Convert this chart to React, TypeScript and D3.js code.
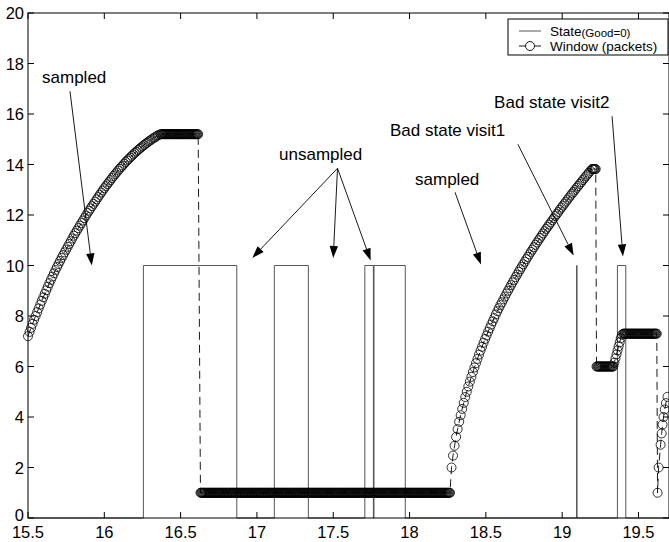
import React from "react";
import * as d3 from "d3";

const width = 669;
const height = 542;
const plot = { left: 28, right: 669, top: 13, bottom: 518 };

const xTicks = [15.5, 16, 16.5, 17, 17.5, 18, 18.5, 19, 19.5];
const yTicks = [0, 2, 4, 6, 8, 10, 12, 14, 16, 18, 20];

// channel state: 0 = good, 10 = bad (switch times and level after each switch)
const stateTimes = [15.5, 16.256, 16.868, 17.114, 17.337, 17.707, 17.763, 17.767, 17.972, 19.095, 19.097, 19.362, 19.417, 19.7];
const stateLevels = [0, 10, 0, 10, 0, 10, 0, 10, 0, 10, 0, 10, 0, 0];

// window growth, first sampled period (one sample every 0.01 from 15.50)
const rise1Start = 15.5;
const rise1 = [
  7.2, 7.37, 7.53, 7.69, 7.85, 8.0, 8.15, 8.3, 8.45, 8.6,
  8.74, 8.88, 9.02, 9.16, 9.3, 9.43, 9.56, 9.69, 9.82, 9.94,
  10.06, 10.18, 10.3, 10.41, 10.52, 10.63, 10.74, 10.85, 10.96, 11.07,
  11.18, 11.28, 11.38, 11.48, 11.58, 11.68, 11.78, 11.88, 11.98, 12.08,
  12.17, 12.26, 12.35, 12.44, 12.53, 12.62, 12.71, 12.8, 12.89, 12.97,
  13.06, 13.14, 13.22, 13.3, 13.38, 13.46, 13.54, 13.61, 13.68, 13.76,
  13.83, 13.9, 13.96, 14.03, 14.1, 14.16, 14.22, 14.28, 14.34, 14.4,
  14.46, 14.51, 14.57, 14.62, 14.67, 14.72, 14.77, 14.82, 14.86, 14.91,
  14.95, 14.99, 15.04, 15.07, 15.11, 15.15, 15.18, 15.2,
];

// window growth, second sampled period (one sample every 0.01 from 18.275)
const rise2Start = 18.275;
const rise2 = [
  2.0, 2.47, 2.86, 3.21, 3.52, 3.81, 4.07, 4.32, 4.56, 4.79,
  5.0, 5.21, 5.4, 5.59, 5.78, 5.96, 6.13, 6.3, 6.47, 6.63,
  6.78, 6.94, 7.09, 7.23, 7.38, 7.52, 7.66, 7.79, 7.92, 8.06,
  8.19, 8.31, 8.43, 8.54, 8.66, 8.77, 8.89, 9.0, 9.11, 9.22,
  9.33, 9.43, 9.54, 9.64, 9.75, 9.85, 9.95, 10.05, 10.15, 10.25,
  10.34, 10.44, 10.54, 10.63, 10.72, 10.82, 10.91, 11.0, 11.09, 11.18,
  11.27, 11.36, 11.45, 11.53, 11.62, 11.7, 11.79, 11.87, 11.96, 12.04,
  12.12, 12.21, 12.29, 12.37, 12.45, 12.53, 12.61, 12.69, 12.77, 12.85,
  12.92, 13.0, 13.08, 13.15, 13.23, 13.3, 13.38, 13.45, 13.53, 13.6,
  13.67, 13.75, 13.82,
];
const sampleStep = 0.01;

// periods where the window is held constant (densely sampled)
const holdFrom = [16.375, 16.63, 19.2, 19.225, 19.4];
const holdTo = [16.615, 18.265, 19.22, 19.335, 19.62];
const holdLevel = [15.2, 1, 13.82, 6.0, 7.3];
const holdStep = 0.005;

// short ramp between the two held levels after the first bad visit
const rise3Times = [19.342, 19.349, 19.356, 19.363, 19.37, 19.377, 19.384, 19.392];
const rise3 = [6.15, 6.32, 6.48, 6.64, 6.8, 6.96, 7.12, 7.26];

// restart after the second bad visit
const tailTimes = [19.625, 19.632, 19.645, 19.652, 19.658, 19.664, 19.672, 19.68, 19.69];
const tail = [1.0, 2.0, 2.9, 3.35, 3.7, 4.0, 4.3, 4.55, 4.8];

// annotations (data coordinates)
const labelText = ["sampled", "unsampled", "sampled", "Bad state visit1", "Bad state visit2"];
const labelT = [15.592, 17.145, 18.036, 17.872, 18.554];
const labelW = [17.22, 14.17, 13.17, 15.12, 16.23];

const arrowFromT = [15.775, 17.528, 17.528, 17.528, 18.298, 18.71, 19.327];
const arrowFromW = [16.9, 13.85, 13.85, 13.85, 12.9, 14.8, 15.91];
const arrowToT = [15.918, 16.97, 17.5, 17.745, 18.468, 19.075, 19.398];
const arrowToW = [10.0, 10.3, 10.3, 10.2, 10.04, 10.4, 10.36];

type Pt = { t: number; w: number };

const buildWindow = (): Pt[] => {
  const pts: Pt[] = [];
  rise1.forEach((w, i) => pts.push({ t: rise1Start + i * sampleStep, w }));
  rise2.forEach((w, i) => pts.push({ t: rise2Start + i * sampleStep, w }));
  holdFrom.forEach((from, i) => {
    d3.range(from, holdTo[i] + 1e-9, holdStep).forEach(t => pts.push({ t, w: holdLevel[i] }));
  });
  rise3.forEach((w, i) => pts.push({ t: rise3Times[i], w }));
  tail.forEach((w, i) => pts.push({ t: tailTimes[i], w }));
  return pts.sort((a, b) => a.t - b.t);
};

const Arrow = ({ x1, y1, x2, y2 }: { x1: number; y1: number; x2: number; y2: number }) => {
  const a = Math.atan2(y2 - y1, x2 - x1);
  const len = 12;
  const half = 4.2;
  const bx = x2 - len * Math.cos(a);
  const by = y2 - len * Math.sin(a);
  const px = -Math.sin(a) * half;
  const py = Math.cos(a) * half;
  return (
    <g>
      <line x1={x1} y1={y1} x2={bx} y2={by} stroke="#000" strokeWidth={0.9} />
      <path d={`M${x2},${y2}L${bx + px},${by + py}L${bx - px},${by - py}Z`} fill="#000" />
    </g>
  );
};

const App = () => {
  const x = d3.scaleLinear().domain([15.5, 19.7]).range([plot.left, plot.right]);
  const y = d3.scaleLinear().domain([0, 20]).range([plot.bottom, plot.top]);

  const statePath = d3
    .line<number>()
    .x((_, i) => x(stateTimes[i]))
    .y(d => y(d))
    .curve(d3.curveStepAfter)(stateLevels);

  const windowPts = buildWindow();
  const windowPath = d3
    .line<Pt>()
    .x(d => x(d.t))
    .y(d => y(d.w))(windowPts);

  const font = "'Liberation Sans', Arial, Helvetica, sans-serif";
  const tickLen = 6;

  return (
    <svg width={width} height={height} style={{ position: "absolute", left: 0, top: 0, background: "#fff" }} fontFamily={font}>
      {/* state */}
      <path d={statePath || ""} fill="none" stroke="#444" strokeWidth={0.9} />

      {/* window */}
      <path d={windowPath || ""} fill="none" stroke="#000" strokeWidth={0.9} strokeDasharray="8,5" />
      {windowPts.map((d, i) => (
        <circle key={i} cx={x(d.t)} cy={y(d.w)} r={4.5} fill="none" stroke="#000" strokeWidth={0.8} />
      ))}

      {/* axes box */}
      <rect x={plot.left} y={plot.top} width={plot.right - plot.left} height={plot.bottom - plot.top} fill="none" stroke="#000" strokeWidth={1} />
      {xTicks.map(t => (
        <g key={"x" + t}>
          <line x1={x(t)} x2={x(t)} y1={plot.bottom} y2={plot.bottom - tickLen} stroke="#000" />
          <line x1={x(t)} x2={x(t)} y1={plot.top} y2={plot.top + tickLen} stroke="#000" />
          <text x={x(t)} y={plot.bottom + 20} fontSize={16.5} textAnchor="middle">{t}</text>
        </g>
      ))}
      {yTicks.map(v => (
        <g key={"y" + v}>
          <line x1={plot.left} x2={plot.left + tickLen} y1={y(v)} y2={y(v)} stroke="#000" />
          <line x1={plot.right} x2={plot.right - tickLen} y1={y(v)} y2={y(v)} stroke="#000" />
          <text x={plot.left - 4} y={y(v) + (v === 0 ? 3 : 6)} fontSize={16.5} textAnchor="end">{v}</text>
        </g>
      ))}

      {/* annotations */}
      {labelText.map((s, i) => (
        <text key={"l" + i} x={x(labelT[i])} y={y(labelW[i])} fontSize={17}>{s}</text>
      ))}
      {arrowFromT.map((t, i) => (
        <Arrow key={"a" + i} x1={x(t)} y1={y(arrowFromW[i])} x2={x(arrowToT[i])} y2={y(arrowToW[i])} />
      ))}

      {/* legend */}
      <g>
        <rect x={508} y={19} width={160} height={36} fill="#fff" stroke="#000" strokeWidth={1} />
        <line x1={519} x2={541} y1={31} y2={31} stroke="#444" strokeWidth={0.9} />
        <text x={550} y={36} fontSize={13.5}>
          State<tspan fontSize={11.5} dy={1}>(Good=0)</tspan>
        </text>
        <line x1={519} x2={541} y1={46} y2={46} stroke="#000" strokeWidth={0.9} />
        <circle cx={530} cy={46} r={4.5} fill="#fff" stroke="#000" strokeWidth={0.9} />
        <text x={550} y={51} fontSize={13.5}>Window (packets)</text>
      </g>
    </svg>
  );
};

export default App;
